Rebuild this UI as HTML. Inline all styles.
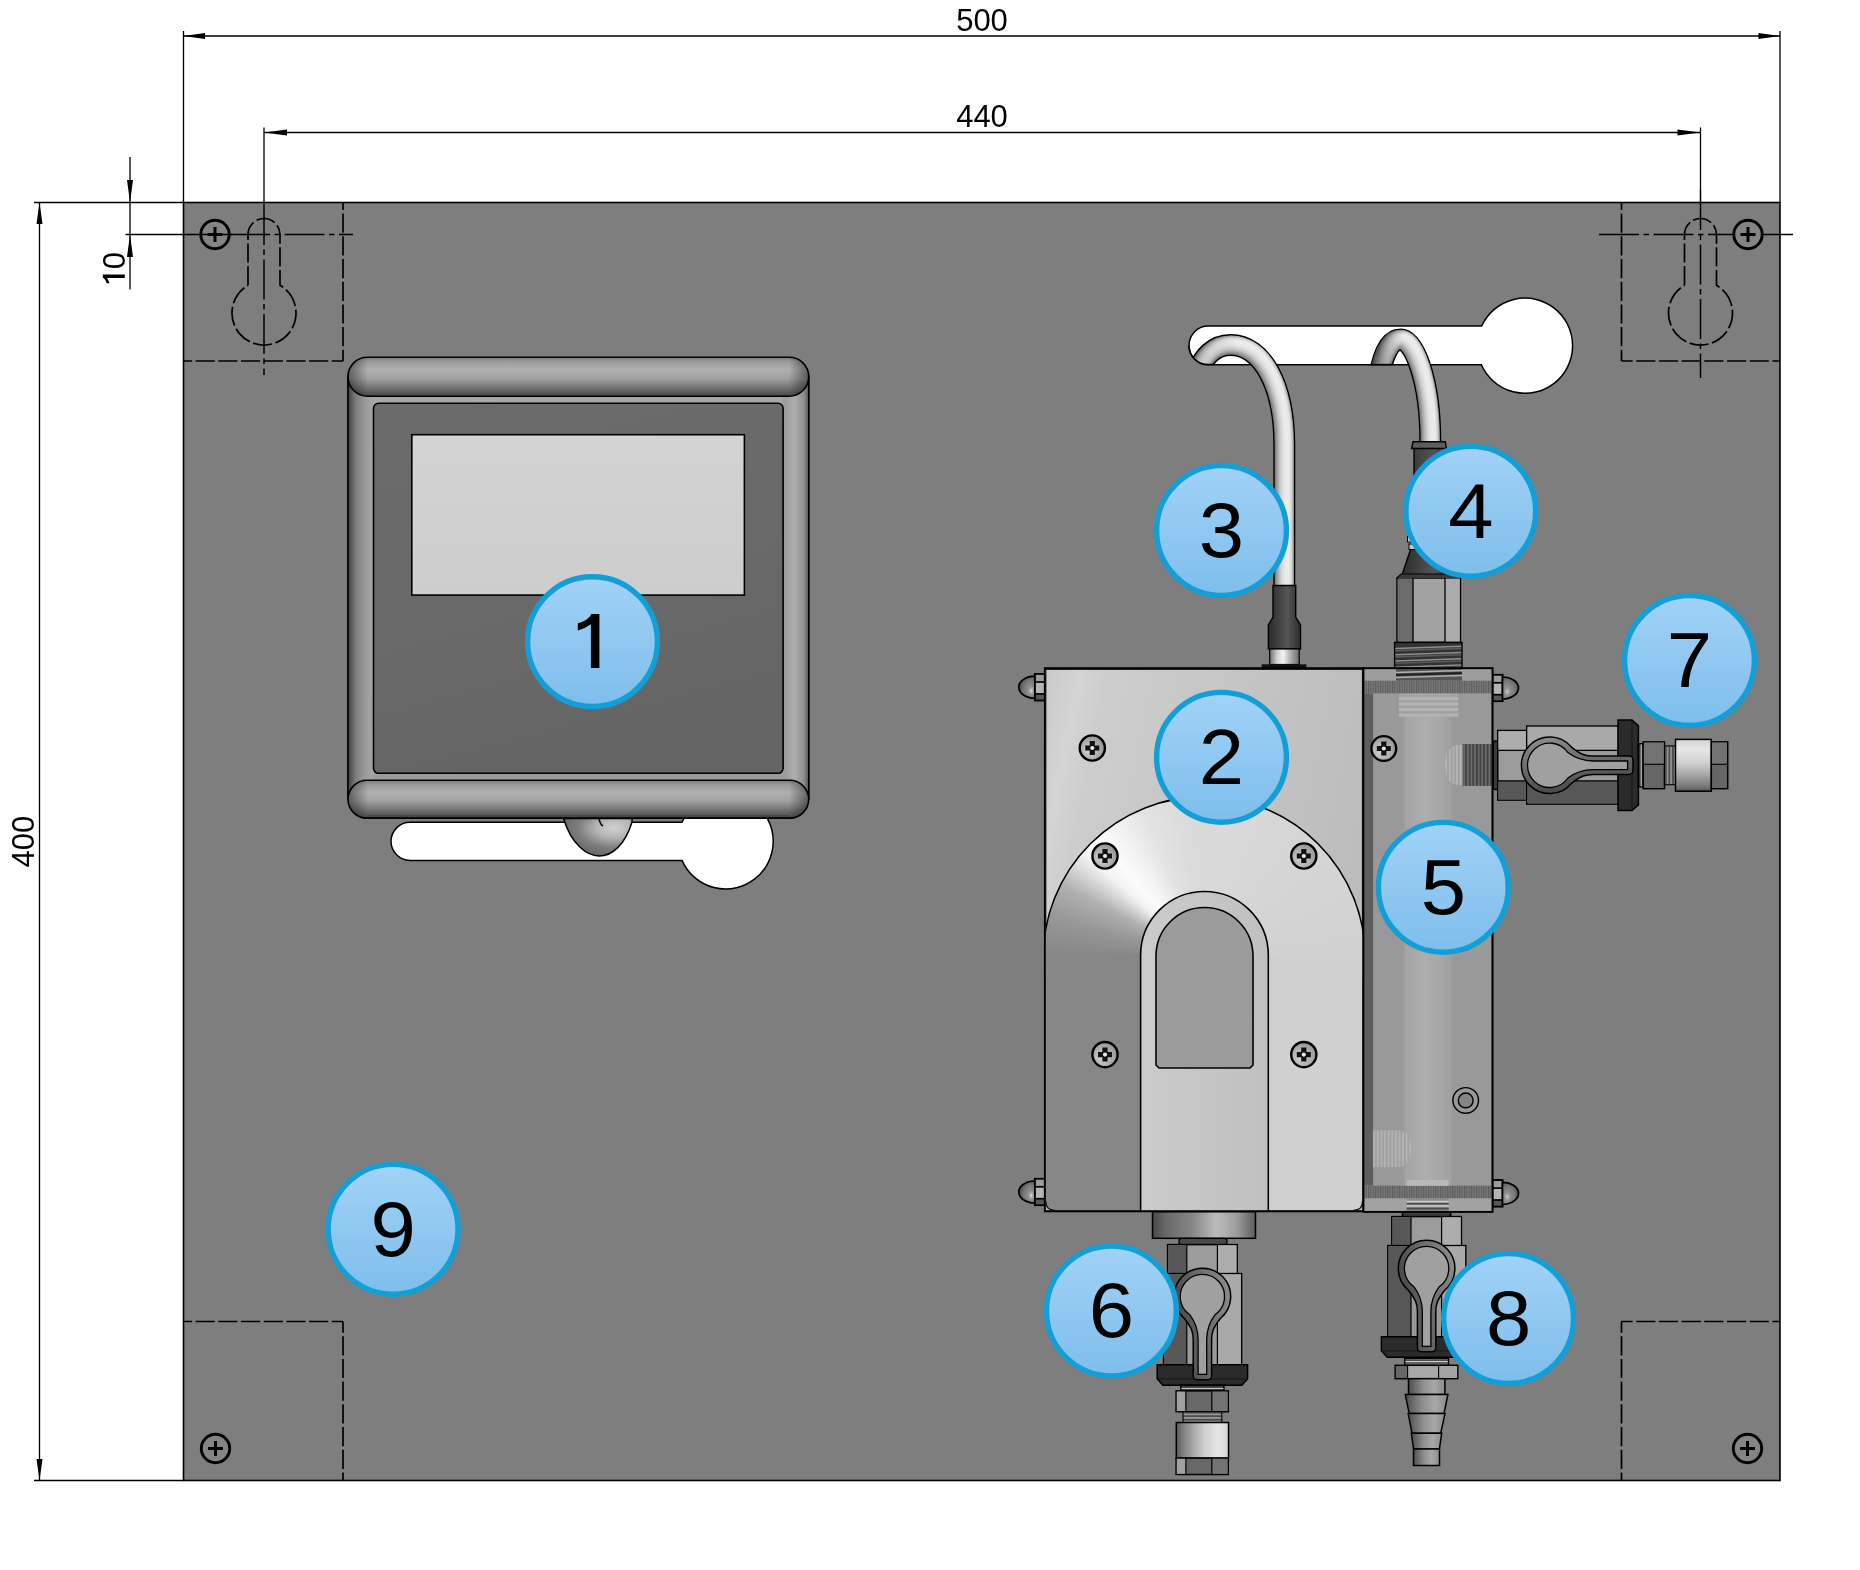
<!DOCTYPE html>
<html><head><meta charset="utf-8"><title>Panel</title>
<style>html,body{margin:0;padding:0;background:#fff}svg{display:block;will-change:transform}</style></head>
<body>
<svg width="1860" height="1570" viewBox="0 0 1860 1570">
<defs>
<linearGradient id="gBall" x1="0" y1="0" x2="0" y2="1"><stop offset="0" stop-color="#a1d2f6"/><stop offset="1" stop-color="#7ebeec"/></linearGradient>
<linearGradient id="gBarV" x1="0" y1="0" x2="0" y2="1"><stop offset="0" stop-color="#7a7a7a"/><stop offset="0.12" stop-color="#9c9c9c"/><stop offset="0.32" stop-color="#b0b0b0"/><stop offset="0.55" stop-color="#a0a0a0"/><stop offset="0.8" stop-color="#707070"/><stop offset="1" stop-color="#484848"/></linearGradient>
<linearGradient id="gSideL" x1="0" y1="0" x2="1" y2="0"><stop offset="0" stop-color="#3e3e3e"/><stop offset="0.3" stop-color="#7c7c7c"/><stop offset="0.7" stop-color="#9c9c9c"/><stop offset="1" stop-color="#a6a6a6"/></linearGradient>
<linearGradient id="gSideR" x1="0" y1="0" x2="1" y2="0"><stop offset="0" stop-color="#9a9a9a"/><stop offset="0.45" stop-color="#adadad"/><stop offset="0.8" stop-color="#909090"/><stop offset="1" stop-color="#5a5a5a"/></linearGradient>
<radialGradient id="gScrew" cx="0.4" cy="0.6" r="0.7"><stop offset="0" stop-color="#d8d8d8"/><stop offset="0.6" stop-color="#a8a8a8"/><stop offset="1" stop-color="#8a8a8a"/></radialGradient>
<linearGradient id="gCtrlGap" x1="0" y1="0" x2="0" y2="1"><stop offset="0" stop-color="#a8a8a8"/><stop offset="1" stop-color="#9a9a9a"/></linearGradient><linearGradient id="gInner" x1="0" y1="0" x2="0.3" y2="1"><stop offset="0" stop-color="#6b6b6b"/><stop offset="0.6" stop-color="#696969"/><stop offset="1" stop-color="#656565"/></linearGradient><linearGradient id="gScreen" x1="0" y1="0" x2="0" y2="1"><stop offset="0" stop-color="#d3d3d3"/><stop offset="1" stop-color="#cdcdcd"/></linearGradient><linearGradient id="gEndL" x1="0" y1="0" x2="1" y2="0"><stop offset="0" stop-color="#000" stop-opacity="0.45"/><stop offset="1" stop-color="#000" stop-opacity="0"/></linearGradient><linearGradient id="gEndR" x1="1" y1="0" x2="0" y2="0"><stop offset="0" stop-color="#000" stop-opacity="0.45"/><stop offset="1" stop-color="#000" stop-opacity="0"/></linearGradient><radialGradient id="gLoop" cx="0.74" cy="0.25" r="0.75"><stop offset="0" stop-color="#d2d2d2"/><stop offset="0.35" stop-color="#b4b4b4"/><stop offset="0.7" stop-color="#7e7e7e"/><stop offset="1" stop-color="#6a6a6a"/></radialGradient><linearGradient id="gShc3" gradientUnits="userSpaceOnUse" x1="1200" y1="0" x2="1238" y2="0"><stop offset="0" stop-color="#000" stop-opacity="0.16"/><stop offset="1" stop-color="#000" stop-opacity="0"/></linearGradient><linearGradient id="gShc4" gradientUnits="userSpaceOnUse" x1="1378" y1="0" x2="1403" y2="0"><stop offset="0" stop-color="#000" stop-opacity="0.42"/><stop offset="1" stop-color="#000" stop-opacity="0"/></linearGradient><linearGradient id="gDarkH" x1="0" y1="0" x2="1" y2="0"><stop offset="0" stop-color="#2a2a2a"/><stop offset="0.45" stop-color="#4a4a4a"/><stop offset="0.6" stop-color="#555"/><stop offset="1" stop-color="#2c2c2c"/></linearGradient><linearGradient id="gMetalH" x1="0" y1="0" x2="1" y2="0"><stop offset="0" stop-color="#6e6e6e"/><stop offset="0.25" stop-color="#d0d0d0"/><stop offset="0.45" stop-color="#f4f4f4"/><stop offset="0.7" stop-color="#b0b0b0"/><stop offset="1" stop-color="#6a6a6a"/></linearGradient><linearGradient id="gPumpTop" x1="0" y1="0" x2="1" y2="0.35"><stop offset="0" stop-color="#c9c9c9"/><stop offset="0.1" stop-color="#d4d4d4"/><stop offset="0.18" stop-color="#cdcdcd"/><stop offset="0.5" stop-color="#c6c6c6"/><stop offset="1" stop-color="#bcbcbc"/></linearGradient><linearGradient id="gUslot" x1="0" y1="0" x2="1" y2="0"><stop offset="0" stop-color="#cbcbcb"/><stop offset="1" stop-color="#c0c0c0"/></linearGradient><linearGradient id="gCylH" x1="0" y1="0" x2="1" y2="0"><stop offset="0" stop-color="#484848"/><stop offset="0.12" stop-color="#686868"/><stop offset="0.38" stop-color="#858585"/><stop offset="0.62" stop-color="#bcbcbc"/><stop offset="0.82" stop-color="#9c9c9c"/><stop offset="1" stop-color="#5c5c5c"/></linearGradient><radialGradient id="gDome" cx="0.78" cy="0.66" r="0.8"><stop offset="0" stop-color="#f0f0f0"/><stop offset="0.08" stop-color="#b8b8b8"/><stop offset="0.25" stop-color="#8e8e8e"/><stop offset="0.6" stop-color="#777"/><stop offset="1" stop-color="#484848"/></radialGradient><radialGradient id="gDomeR" cx="0.3" cy="0.66" r="0.8"><stop offset="0" stop-color="#d8d8d8"/><stop offset="0.08" stop-color="#b0b0b0"/><stop offset="0.25" stop-color="#8e8e8e"/><stop offset="0.6" stop-color="#777"/><stop offset="1" stop-color="#484848"/></radialGradient><linearGradient id="gTube" x1="0" y1="0" x2="1" y2="0"><stop offset="0" stop-color="#a4a4a4"/><stop offset="0.45" stop-color="#aeaeae"/><stop offset="0.8" stop-color="#a6a6a6"/><stop offset="1" stop-color="#9e9e9e"/></linearGradient><pattern id="pHatchV" width="2.4" height="4" patternUnits="userSpaceOnUse"><rect width="2.4" height="4" fill="#7a7a7a"/><rect width="1.1" height="4" fill="#5c5c5c"/></pattern><pattern id="pThrV" width="3.6" height="4" patternUnits="userSpaceOnUse"><rect width="3.6" height="4" fill="#6a6a6a"/><rect width="1.5" height="4" fill="#3c3c3c"/></pattern><pattern id="pThrVg" width="3.6" height="4" patternUnits="userSpaceOnUse"><rect width="3.6" height="4" fill="#b8b8b8"/><rect width="1.5" height="4" fill="#9c9c9c"/></pattern><pattern id="pThrHg" width="4" height="5.6" patternUnits="userSpaceOnUse"><rect width="4" height="5.6" fill="#b4b4b4"/><rect width="4" height="2.4" fill="#a0a0a0"/></pattern><linearGradient id="gCylV" x1="0" y1="0" x2="0" y2="1"><stop offset="0" stop-color="#d4d4d4"/><stop offset="0.2" stop-color="#e6e6e6"/><stop offset="0.45" stop-color="#d0d0d0"/><stop offset="0.7" stop-color="#a4a4a4"/><stop offset="0.9" stop-color="#7a7a7a"/><stop offset="1" stop-color="#555"/></linearGradient><linearGradient id="gBarbV" x1="0" y1="0" x2="0" y2="1"><stop offset="0" stop-color="#8c8c8c"/><stop offset="0.3" stop-color="#a8a8a8"/><stop offset="0.6" stop-color="#8e8e8e"/><stop offset="1" stop-color="#4e4e4e"/></linearGradient><linearGradient id="gRing" x1="0.2" y1="0" x2="0.5" y2="1"><stop offset="0" stop-color="#8c8c8c"/><stop offset="0.5" stop-color="#6a6a6a"/><stop offset="1" stop-color="#444"/></linearGradient><pattern id="pThrVd" width="3.6" height="4" patternUnits="userSpaceOnUse"><rect width="3.6" height="4" fill="#4c4c4c"/><rect x="1.2" width="1.1" height="4" fill="#c2c2c2"/></pattern></defs>
<rect width="1860" height="1570" fill="#fff"/>
<rect x="183.5" y="202.5" width="1596.5" height="1278.0" fill="#7e7e7e" stroke="#000" stroke-width="1.6"/>
<path d="M1208.35,326.1 L1481.6,326.1 A47.6,47.6 0 1 1 1481.4,364.8 L1208.35,364.8 A19.349999999999994,19.349999999999994 0 0 1 1208.35,326.1 Z" fill="#fff" stroke="#000" stroke-width="1.5"/>
<path d="M410.05,822.3 L682.0,822.3 A47.6,47.6 0 1 1 682.0,860.4 L410.05,860.4 A19.05000000000001,19.05000000000001 0 0 1 410.05,822.3 Z" fill="#fff" stroke="#000" stroke-width="1.5"/>
<path d="M343,361 H183.5 M343,361 V202.5" stroke="#000" stroke-width="1.7" fill="none" stroke-dasharray="19.2 3.5" stroke-dashoffset="8"/>
<path d="M1621.5,361 H1780 M1621.5,361 V202.5" stroke="#000" stroke-width="1.7" fill="none" stroke-dasharray="19.2 3.5" stroke-dashoffset="8"/>
<path d="M343,1321.5 H183.5 M343,1321.5 V1480.5" stroke="#000" stroke-width="1.7" fill="none" stroke-dasharray="19.2 3.5" stroke-dashoffset="8"/>
<path d="M1621.5,1321.5 H1780 M1621.5,1321.5 V1480.5" stroke="#000" stroke-width="1.7" fill="none" stroke-dasharray="19.2 3.5" stroke-dashoffset="8"/>
<path d="M248,285.3 V234.5 A16,16 0 0 1 280,234.5 V285.3 A32,32 0 1 1 248,285.3" stroke="#000" stroke-width="1.7" fill="none" stroke-dasharray="19.2 3.5"/>
<path d="M1684.5,285.3 V234.5 A16,16 0 0 1 1716.5,234.5 V285.3 A32,32 0 1 1 1684.5,285.3" stroke="#000" stroke-width="1.7" fill="none" stroke-dasharray="19.2 3.5"/>
<path d="M264,205 V375" stroke="#000" stroke-width="1.5" fill="none" stroke-dasharray="40 4.5 5.5 4.5"/>
<path d="M1700.5,190 V378" stroke="#000" stroke-width="1.5" fill="none" stroke-dasharray="40 4.5 5.5 4.5"/>
<path d="M230,234.5 H353" stroke="#000" stroke-width="1.5" fill="none" stroke-dasharray="40 4.5 5.5 4.5"/>
<path d="M1599,234.5 H1793" stroke="#000" stroke-width="1.5" fill="none" stroke-dasharray="40 4.5 5.5 4.5"/>
<g><circle cx="215" cy="234.5" r="14.2" fill="#848484" stroke="#000" stroke-width="2.9"/><path d="M207.5,234.5 H222.5 M215,227.0 V242.0" stroke="#000" stroke-width="3"/></g>
<g><circle cx="1748" cy="234.5" r="14.2" fill="#848484" stroke="#000" stroke-width="2.9"/><path d="M1740.5,234.5 H1755.5 M1748,227.0 V242.0" stroke="#000" stroke-width="3"/></g>
<g><circle cx="215.5" cy="1448.5" r="14.2" fill="#848484" stroke="#000" stroke-width="2.9"/><path d="M208.0,1448.5 H223.0 M215.5,1441.0 V1456.0" stroke="#000" stroke-width="3"/></g>
<g><circle cx="1747.5" cy="1448.5" r="14.2" fill="#848484" stroke="#000" stroke-width="2.9"/><path d="M1740.0,1448.5 H1755.0 M1747.5,1441.0 V1456.0" stroke="#000" stroke-width="3"/></g>
<rect x="348" y="376.2" width="460.70000000000005" height="422.90000000000003" fill="url(#gCtrlGap)" stroke="#000" stroke-width="1.5"/>
<rect x="348" y="376.2" width="25.5" height="422.90000000000003" fill="url(#gSideL)"/>
<rect x="783.2" y="376.2" width="25.5" height="422.90000000000003" fill="url(#gSideR)"/>
<rect x="348" y="376.2" width="460.70000000000005" height="422.90000000000003" fill="none" stroke="#000" stroke-width="1.5"/>
<rect x="373.5" y="403.3" width="409.6" height="370" rx="5" fill="url(#gInner)" stroke="#000" stroke-width="1.6"/>
<rect x="411.8" y="434.7" width="332.6" height="160.4" fill="url(#gScreen)" stroke="#000" stroke-width="1.6"/>
<clipPath id="cpBar357"><rect x="348" y="357.2" width="460.70000000000005" height="39.0" rx="19.5"/></clipPath>
<g clip-path="url(#cpBar357)"><rect x="348" y="357.2" width="460.70000000000005" height="39.0" fill="url(#gBarV)"/><rect x="348" y="357.2" width="20" height="39.0" fill="url(#gEndL)"/><rect x="788.7" y="357.2" width="20" height="39.0" fill="url(#gEndR)"/></g>
<rect x="348" y="357.2" width="460.70000000000005" height="39.0" rx="19.5" fill="none" stroke="#000" stroke-width="1.6"/>
<clipPath id="cpBar780"><rect x="348" y="780.3" width="460.70000000000005" height="37.80000000000007" rx="18.900000000000034"/></clipPath>
<g clip-path="url(#cpBar780)"><rect x="348" y="780.3" width="460.70000000000005" height="37.80000000000007" fill="url(#gBarV)"/><rect x="348" y="780.3" width="20" height="37.80000000000007" fill="url(#gEndL)"/><rect x="788.7" y="780.3" width="20" height="37.80000000000007" fill="url(#gEndR)"/></g>
<rect x="348" y="780.3" width="460.70000000000005" height="37.80000000000007" rx="18.900000000000034" fill="none" stroke="#000" stroke-width="1.6"/>
<path d="M563.5,818.5 C572,846 588,856 599,856 C612,856 625,845 632,822 V818.5 Z" fill="url(#gLoop)" stroke="#000" stroke-width="1.5"/>
<path d="M599,819 C600,823 602,825.5 603,826" stroke="#000" stroke-width="1.5" fill="none"/>
<rect x="367" y="815.1" width="422.70000000000005" height="3" fill="#454545"/>
<path d="M364,818.1 H792.7" stroke="#000" stroke-width="1.6"/>
<path d="M520,819.4 H683 L685,821.7" stroke="#000" stroke-width="0" fill="none"/>
<clipPath id="cpc3"><path d="M1208.35,326.1 L1481.6,326.1 A47.6,47.6 0 1 1 1481.4,364.8 L1208.35,364.8 A19.349999999999994,19.349999999999994 0 0 1 1208.35,326.1 Z"/><rect x="1232" y="300" width="200" height="400"/></clipPath>
<g clip-path="url(#cpc3)" fill="none" stroke-linecap="butt"><path d="M1197,376 C1202,356 1215,345 1230.5,345 C1262,345 1284.3,385 1284.3,445 V588" stroke="#000" stroke-width="22"/><path d="M1197,376 C1202,356 1215,345 1230.5,345 C1262,345 1284.3,385 1284.3,445 V588" stroke="#808080" stroke-width="19.2"/><path d="M1197,376 C1202,356 1215,345 1230.5,345 C1262,345 1284.3,385 1284.3,445 V588" stroke="#969696" stroke-width="17.6" transform="translate(0.5,-0.5)"/><path d="M1197,376 C1202,356 1215,345 1230.5,345 C1262,345 1284.3,385 1284.3,445 V588" stroke="#a8a8a8" stroke-width="16" transform="translate(0.9,-0.9)"/><path d="M1197,376 C1202,356 1215,345 1230.5,345 C1262,345 1284.3,385 1284.3,445 V588" stroke="#b9b9b9" stroke-width="14.4" transform="translate(1.3,-1.3)"/><path d="M1197,376 C1202,356 1215,345 1230.5,345 C1262,345 1284.3,385 1284.3,445 V588" stroke="#c8c8c8" stroke-width="12.8" transform="translate(1.6,-1.6)"/><path d="M1197,376 C1202,356 1215,345 1230.5,345 C1262,345 1284.3,385 1284.3,445 V588" stroke="#d4d4d4" stroke-width="11" transform="translate(1.9,-1.9)"/><path d="M1197,376 C1202,356 1215,345 1230.5,345 C1262,345 1284.3,385 1284.3,445 V588" stroke="#dddddd" stroke-width="9" transform="translate(2.2,-2.2)"/><path d="M1197,376 C1202,356 1215,345 1230.5,345 C1262,345 1284.3,385 1284.3,445 V588" stroke="#e5e5e5" stroke-width="7" transform="translate(2.5,-2.5)"/><path d="M1197,376 C1202,356 1215,345 1230.5,345 C1262,345 1284.3,385 1284.3,445 V588" stroke="#ebebeb" stroke-width="4.5" transform="translate(2.8,-2.8)"/><path d="M1197,376 C1202,356 1215,345 1230.5,345 H1240" stroke="url(#gShc3)" stroke-width="19.2"/></g>
<clipPath id="cpc4"><path d="M1208.35,326.1 L1481.6,326.1 A47.6,47.6 0 1 1 1481.4,364.8 L1208.35,364.8 A19.349999999999994,19.349999999999994 0 0 1 1208.35,326.1 Z"/><rect x="1398" y="300" width="200" height="400"/></clipPath>
<g clip-path="url(#cpc4)" fill="none" stroke-linecap="butt"><path d="M1379,378 C1383,352 1391,339.4 1400.5,339.4 C1414,339.4 1430.3,380 1430.3,441 V445" stroke="#000" stroke-width="22"/><path d="M1379,378 C1383,352 1391,339.4 1400.5,339.4 C1414,339.4 1430.3,380 1430.3,441 V445" stroke="#808080" stroke-width="19.2"/><path d="M1379,378 C1383,352 1391,339.4 1400.5,339.4 C1414,339.4 1430.3,380 1430.3,441 V445" stroke="#969696" stroke-width="17.6" transform="translate(0.5,-0.5)"/><path d="M1379,378 C1383,352 1391,339.4 1400.5,339.4 C1414,339.4 1430.3,380 1430.3,441 V445" stroke="#a8a8a8" stroke-width="16" transform="translate(0.9,-0.9)"/><path d="M1379,378 C1383,352 1391,339.4 1400.5,339.4 C1414,339.4 1430.3,380 1430.3,441 V445" stroke="#b9b9b9" stroke-width="14.4" transform="translate(1.3,-1.3)"/><path d="M1379,378 C1383,352 1391,339.4 1400.5,339.4 C1414,339.4 1430.3,380 1430.3,441 V445" stroke="#c8c8c8" stroke-width="12.8" transform="translate(1.6,-1.6)"/><path d="M1379,378 C1383,352 1391,339.4 1400.5,339.4 C1414,339.4 1430.3,380 1430.3,441 V445" stroke="#d4d4d4" stroke-width="11" transform="translate(1.9,-1.9)"/><path d="M1379,378 C1383,352 1391,339.4 1400.5,339.4 C1414,339.4 1430.3,380 1430.3,441 V445" stroke="#dddddd" stroke-width="9" transform="translate(2.2,-2.2)"/><path d="M1379,378 C1383,352 1391,339.4 1400.5,339.4 C1414,339.4 1430.3,380 1430.3,441 V445" stroke="#e5e5e5" stroke-width="7" transform="translate(2.5,-2.5)"/><path d="M1379,378 C1383,352 1391,339.4 1400.5,339.4 C1414,339.4 1430.3,380 1430.3,441 V445" stroke="#ebebeb" stroke-width="4.5" transform="translate(2.8,-2.8)"/><path d="M1379,378 C1383,352 1391,339.4 1400.5,339.4 H1404" stroke="url(#gShc4)" stroke-width="19.2"/></g>
<path d="M1189,345.4 A19.2,19.2 0 0 0 1208.2,364.6 H1213" stroke="#000" stroke-width="1.5" fill="none"/>
<path d="M1371,364.6 H1393" stroke="#000" stroke-width="1.5" fill="none"/>
<path d="M1273,585.5 H1295.7 V617 L1300.5,625 V649 H1268.4 V625 L1273,617 Z" fill="url(#gDarkH)" stroke="#000" stroke-width="1.4"/>
<rect x="1269.7" y="649" width="29.5" height="15.5" fill="url(#gMetalH)" stroke="#000" stroke-width="1.2"/>
<rect x="1261.7" y="664.3" width="44.7" height="4" fill="#111"/>
<path d="M1414,448 H1444 V540 L1449,560 L1455,578 H1401 L1407,560 L1414,540 Z" fill="url(#gDarkH)" stroke="#000" stroke-width="1.4"/>
<path d="M1413,441.7 H1445.2 L1446.6,448.5 H1411.6 Z" fill="#5c5c5c" stroke="#000" stroke-width="1.4"/>
<rect x="1407.5" y="536.5" width="8" height="5.5" fill="#c8c8c8" stroke="#000" stroke-width="1"/><rect x="1409" y="544" width="7" height="5.5" fill="#c8c8c8" stroke="#000" stroke-width="1"/>
<rect x="1397" y="578" width="63.4" height="64.4" fill="#a2a2a2" stroke="#000" stroke-width="1.5"/>
<rect x="1397.7" y="578.7" width="15.3" height="63" fill="#6c6c6c"/><rect x="1445" y="578.7" width="14.7" height="63" fill="#ababab"/>
<path d="M1413,578 V642.4 M1445,578 V642.4" stroke="#000" stroke-width="1.3"/>
<path d="M1397,578 L1401,574 H1455 L1460.4,578" fill="#3a3a3a" stroke="#000" stroke-width="1.2"/>
<rect x="1394.6" y="642.4" width="67.4" height="26" fill="#333" stroke="#000" stroke-width="1.4"/>
<path d="M1395.3,648.4 L1461.3,646.2 M1395.3,654.7 L1461.3,652.5 M1395.3,661.0 L1461.3,658.8 M1395.3,667.3 L1461.3,665.1 " stroke="#8e8e8e" stroke-width="1.5" fill="none"/>
<path d="M1395.3,650.6 L1461.3,648.4 M1395.3,656.9 L1461.3,654.7 M1395.3,663.2 L1461.3,661.0 M1395.3,669.5 L1461.3,667.3 " stroke="#5a5a5a" stroke-width="1.6" fill="none"/>
<g stroke="#000" stroke-width="1.7"><rect x="1034.8" y="674.0" width="10.0" height="26.40000000000009" fill="#b4b4b4"/><rect x="1034.8" y="674.0" width="10.0" height="8" fill="#9c9c9c"/><rect x="1034.8" y="693.9000000000001" width="10.0" height="6.5" fill="#585858"/><path d="M1034.8,676.2 A16,11 0 0 0 1034.8,698.2 Z" fill="url(#gDome)"/></g>
<g stroke="#000" stroke-width="1.7"><rect x="1034.8" y="1178.8" width="10.0" height="26.40000000000009" fill="#b4b4b4"/><rect x="1034.8" y="1178.8" width="10.0" height="8" fill="#9c9c9c"/><rect x="1034.8" y="1198.7" width="10.0" height="6.5" fill="#585858"/><path d="M1034.8,1181 A16,11 0 0 0 1034.8,1203 Z" fill="url(#gDome)"/></g>
<rect x="1044.8" y="668.3" width="318.70000000000005" height="543.0" fill="#b8b8b8" stroke="#000" stroke-width="1.7"/>
<path d="M1045.8,669.3 H1362.5 V1201.3 Q1362.5,1210.3 1353.5,1210.3 H1054.8 Q1045.8,1210.3 1045.8,1201.3 Z" fill="url(#gPumpTop)" stroke="#222" stroke-width="1.2"/>
<clipPath id="cpPump"><path d="M1045.8,669.3 H1362.5 V1201.3 Q1362.5,1210.3 1353.5,1210.3 H1054.8 Q1045.8,1210.3 1045.8,1201.3 Z"/></clipPath>
<g clip-path="url(#cpPump)"><circle cx="1204.2" cy="957.5" r="160" fill="#d8d8d8"/><path d="M1204.2,957.5 L1044.7,957.5 A159.5,159.5 0 0 1 1056.3,897.8 Z" fill="#8e8e8e"/><path d="M1204.2,957.5 L1056.3,897.8 A159.5,159.5 0 0 1 1070.4,870.6 Z" fill="#b4b4b4"/><path d="M1204.2,957.5 L1070.4,870.6 A159.5,159.5 0 0 1 1129.3,816.7 Z" fill="#f4f4f4"/><path d="M1204.2,957.5 L1129.3,816.7 A159.5,159.5 0 0 1 1162.9,803.4 Z" fill="#e4e4e4"/><foreignObject x="1043.2" y="796.5" width="322" height="161"><div style="width:322px;height:322px;border-radius:50%;background:conic-gradient(from 0deg at 50% 50%, #dadada 0deg, #d6d6d6 40deg, #d1d1d1 90deg, #d0d0d0 180deg, #878787 180.1deg, #878787 272deg, #999999 286deg, #b0b0b0 297deg, #d2d2d2 304deg, #f3f3f3 311deg, #fcfcfc 318deg, #f1f1f1 328deg, #e3e3e3 338deg, #dcdcdc 350deg, #dadada 360deg)"></div></foreignObject><rect x="1044.8" y="957.2" width="159.4000000000001" height="253.79999999999995" fill="#878787"/><rect x="1204.2" y="957.2" width="159.29999999999995" height="253.79999999999995" fill="#d0d0d0"/><path d="M1043.2,957.5 A161,161 0 0 1 1365.2,957.5" fill="none" stroke="#000" stroke-width="1.6"/></g>
<path d="M1362.5,1201.3 Q1362.5,1210.3 1353.5,1210.3 M1054.8,1210.3 Q1045.8,1210.3 1045.8,1201.3" fill="none" stroke="#111" stroke-width="1.3"/>
<path d="M1140.6,1211.3 V955.3 A63.85,63.85 0 0 1 1268.3,955.3 V1211.3 Z" fill="url(#gUslot)" stroke="#000" stroke-width="1.6"/>
<path d="M1156,1065 V956 A48.5,48.5 0 0 1 1253,956 V1065 L1250,1068 H1159 Z" fill="#9b9b9b" stroke="#000" stroke-width="1.6"/>
<rect x="1044.8" y="668.3" width="318.70000000000005" height="543.0" fill="none" stroke="#000" stroke-width="1.7"/>
<g><circle cx="1092.3" cy="748" r="12.6" fill="url(#gScrew)" stroke="#000" stroke-width="2.4"/><path d="M1085.3,748 H1099.3 M1092.3,741 V755" stroke="#111" stroke-width="5.2"/><circle cx="1092.3" cy="748" r="2.1" fill="#e8e8e8"/></g>
<g><circle cx="1105" cy="856" r="12.6" fill="url(#gScrew)" stroke="#000" stroke-width="2.4"/><path d="M1098,856 H1112 M1105,849 V863" stroke="#111" stroke-width="5.2"/><circle cx="1105" cy="856" r="2.1" fill="#e8e8e8"/></g>
<g><circle cx="1303.8" cy="856" r="12.6" fill="url(#gScrew)" stroke="#000" stroke-width="2.4"/><path d="M1296.8,856 H1310.8 M1303.8,849 V863" stroke="#111" stroke-width="5.2"/><circle cx="1303.8" cy="856" r="2.1" fill="#e8e8e8"/></g>
<g><circle cx="1105" cy="1054.6" r="12.6" fill="url(#gScrew)" stroke="#000" stroke-width="2.4"/><path d="M1098,1054.6 H1112 M1105,1047.6 V1061.6" stroke="#111" stroke-width="5.2"/><circle cx="1105" cy="1054.6" r="2.1" fill="#e8e8e8"/></g>
<g><circle cx="1303.8" cy="1054.6" r="12.6" fill="url(#gScrew)" stroke="#000" stroke-width="2.4"/><path d="M1296.8,1054.6 H1310.8 M1303.8,1047.6 V1061.6" stroke="#111" stroke-width="5.2"/><circle cx="1303.8" cy="1054.6" r="2.1" fill="#e8e8e8"/></g>
<rect x="1152.5" y="1211.8" width="103" height="26.5" fill="url(#gCylH)" stroke="#000" stroke-width="1.5"/>
<g stroke="#000" stroke-width="1.7"><rect x="1492.5" y="674.8" width="10.0" height="26.40000000000009" fill="#b4b4b4"/><rect x="1492.5" y="674.8" width="10.0" height="8" fill="#9c9c9c"/><rect x="1492.5" y="694.7" width="10.0" height="6.5" fill="#585858"/><path d="M1502.5,677 A16,11 0 0 1 1502.5,699 Z" fill="url(#gDomeR)"/></g>
<g stroke="#000" stroke-width="1.7"><rect x="1492.5" y="1180.1" width="10.0" height="26.40000000000009" fill="#b4b4b4"/><rect x="1492.5" y="1180.1" width="10.0" height="8" fill="#9c9c9c"/><rect x="1492.5" y="1200.0" width="10.0" height="6.5" fill="#585858"/><path d="M1502.5,1182.3 A16,11 0 0 1 1502.5,1204.3 Z" fill="url(#gDomeR)"/></g>
<rect x="1363.5" y="668.3" width="129.0" height="543.5" fill="#999999" stroke="#000" stroke-width="1.7"/>
<rect x="1404.8" y="693.4" width="47.2" height="492.3" fill="url(#gTube)"/>
<rect x="1404" y="693.4" width="1.6" height="492.3" fill="#a0a0a0"/>
<rect x="1364.3" y="693.4" width="8.8" height="492.3" fill="#5e5e5e"/>
<rect x="1364.3" y="669.0999999999999" width="127.4" height="12" fill="#9d9d9d"/>
<rect x="1396" y="668.3" width="66" height="12.4" fill="#555"/>
<path d="M1396,672.5 L1462,670.5 M1396,677.5 L1462,675.5" stroke="#b0b0b0" stroke-width="1.3"/>
<path d="M1396,675 L1462,673" stroke="#222" stroke-width="2"/>
<rect x="1399" y="693.4" width="59.3" height="23.2" fill="url(#pThrHg)"/>
<rect x="1364.3" y="680.7" width="127.4" height="12.7" fill="url(#pHatchV)"/>
<rect x="1364.3" y="1185.7" width="127.4" height="12.8" fill="url(#pHatchV)"/>
<rect x="1364.3" y="1198.5" width="127.4" height="12.5" fill="#a2a2a2"/>
<rect x="1406.7" y="1180" width="42" height="5.7" fill="#b8b8b8"/>
<rect x="1406.7" y="1198.5" width="42" height="12.8" fill="#8a8a8a"/>
<path d="M1406.7,1201.5 H1448.7 M1406.7,1206 H1448.7" stroke="#d0d0d0" stroke-width="1.4"/><path d="M1406.7,1203.7 H1448.7 M1406.7,1208.6 H1448.7" stroke="#4a4a4a" stroke-width="1.6"/>
<path d="M1372.9,1130.3 H1398 Q1411,1131 1411,1148.8 Q1411,1166.6 1398,1167.3 H1372.9 Z" fill="url(#pThrVg)" opacity="0.85"/>
<path d="M1463,745 H1458 Q1445,746 1445,765 Q1445,784 1458,785 H1463 Z" fill="url(#pThrVg)" opacity="0.85"/>
<rect x="1462.7" y="744" width="29" height="42" fill="url(#pThrV)"/>
<circle cx="1465.7" cy="1100.4" r="12.8" fill="#999" stroke="#000" stroke-width="1.4"/><circle cx="1465.7" cy="1100.4" r="7.4" fill="#858585" stroke="#000" stroke-width="1.4"/>
<g><circle cx="1383.8" cy="748.5" r="12.4" fill="url(#gScrew)" stroke="#000" stroke-width="2.4"/><path d="M1376.8,748.5 H1390.8 M1383.8,741.5 V755.5" stroke="#111" stroke-width="5.2"/><circle cx="1383.8" cy="748.5" r="2.1" fill="#e8e8e8"/></g>
<rect x="1363.5" y="668.3" width="129.0" height="543.5" fill="none" stroke="#000" stroke-width="1.7"/>
<g transform="translate(1493,765.3)"><rect x="0.3" y="-24.2" width="4.6" height="48.4" rx="2" fill="#3a3a3a" stroke="#000" stroke-width="1.5"/><rect x="4.8" y="-34.8" width="29" height="69.6" fill="#9c9c9c" stroke="#000" stroke-width="1.5"/><rect x="5.5" y="-34.1" width="27.6" height="19" fill="#adadad"/><rect x="5.5" y="15.6" width="27.6" height="18.5" fill="#575757"/><path d="M4.8,-15 H33.8 M4.8,15.6 H33.8" stroke="#000" stroke-width="1.2"/><rect x="33.8" y="-39.2" width="91.4" height="78" fill="#9a9a9a" stroke="#000" stroke-width="1.5"/><rect x="34.5" y="-38.5" width="90" height="23.3" fill="#a9a9a9"/><rect x="34.5" y="15.6" width="90" height="22.5" fill="#575757"/><path d="M33.8,-15 H125.2 M33.8,15.6 H125.2" stroke="#000" stroke-width="1.2"/><path d="M125,-45.2 H139 L145.4,-39.5 V39.5 L139,45.2 H125 Z" fill="#2b2b2b" stroke="#000" stroke-width="1.5"/><path d="M139,-44.5 V44.5" stroke="#1a1a1a" stroke-width="1.2"/><path d="M78.4,-18.2 C88,-10.4 93,-9.2 100,-9.2 L136,-9.2 A4,4 0 0 1 140,-5.2 L140,5.2 A4,4 0 0 1 136,9.2 L100,9.2 C93,9.2 88,10.4 78.4,18.2 A28.3,28.3 0 1 1 78.4,-18.2 Z" fill="url(#gRing)" stroke="#000" stroke-width="1.5"/><path d="M74.9,-12.7 C84,-5.8 92,-4.3 100,-4.3 L134.6,-4.3 L134.6,4.3 L100,4.3 C92,4.3 84,5.8 74.9,12.7 A22.2,22.2 0 1 1 74.9,-12.7 Z" fill="#a0a0a0" stroke="#000" stroke-width="1.3"/><rect x="145.4" y="-21.5" width="5" height="43" fill="#3c3c3c" stroke="#000" stroke-width="1.5"/><path d="M148.2,-21 V21" stroke="#d0d0d0" stroke-width="1"/><rect x="150.2" y="-23.4" width="21.3" height="46.8" fill="#666" stroke="#000" stroke-width="1.5"/><rect x="150.89999999999998" y="-22.7" width="19.900000000000002" height="21.5" fill="#727272"/><path d="M150.2,-1 H171.5" stroke="#000" stroke-width="1.1"/><rect x="171.5" y="-19.4" width="11.0" height="38.8" fill="url(#pThrVd)" stroke="#000" stroke-width="1.1"/><rect x="182.5" y="-25.9" width="35.8" height="51.8" fill="url(#gCylV)" stroke="#000" stroke-width="1.5"/><rect x="218.3" y="-23.4" width="16.4" height="46.8" fill="#666" stroke="#000" stroke-width="1.5"/><rect x="219.0" y="-22.7" width="14.999999999999998" height="21.5" fill="#727272"/><path d="M218.3,-1 H234.70000000000002" stroke="#000" stroke-width="1.1"/></g>
<g transform="translate(1426.6,1211.8) rotate(90)"><rect x="0.3" y="-24.2" width="4.6" height="48.4" rx="2" fill="#3a3a3a" stroke="#000" stroke-width="1.5"/><rect x="4.8" y="-34.8" width="29" height="69.6" fill="#9c9c9c" stroke="#000" stroke-width="1.5"/><rect x="5.5" y="-34.1" width="27.6" height="19" fill="#adadad"/><rect x="5.5" y="15.6" width="27.6" height="18.5" fill="#575757"/><path d="M4.8,-15 H33.8 M4.8,15.6 H33.8" stroke="#000" stroke-width="1.2"/><rect x="33.8" y="-39.2" width="91.4" height="78" fill="#9a9a9a" stroke="#000" stroke-width="1.5"/><rect x="34.5" y="-38.5" width="90" height="23.3" fill="#a9a9a9"/><rect x="34.5" y="15.6" width="90" height="22.5" fill="#575757"/><path d="M33.8,-15 H125.2 M33.8,15.6 H125.2" stroke="#000" stroke-width="1.2"/><path d="M125,-45.2 H139 L145.4,-39.5 V39.5 L139,45.2 H125 Z" fill="#2b2b2b" stroke="#000" stroke-width="1.5"/><path d="M139,-44.5 V44.5" stroke="#1a1a1a" stroke-width="1.2"/><path d="M78.4,-18.2 C88,-10.4 93,-9.2 100,-9.2 L136,-9.2 A4,4 0 0 1 140,-5.2 L140,5.2 A4,4 0 0 1 136,9.2 L100,9.2 C93,9.2 88,10.4 78.4,18.2 A28.3,28.3 0 1 1 78.4,-18.2 Z" fill="url(#gRing)" stroke="#000" stroke-width="1.5"/><path d="M74.9,-12.7 C84,-5.8 92,-4.3 100,-4.3 L134.6,-4.3 L134.6,4.3 L100,4.3 C92,4.3 84,5.8 74.9,12.7 A22.2,22.2 0 1 1 74.9,-12.7 Z" fill="#a0a0a0" stroke="#000" stroke-width="1.3"/><rect x="146.4" y="-21.8" width="7.2" height="43.6" fill="#8a8a8a" stroke="#000" stroke-width="1.5"/><path d="M148.3,-21 V21 M151.2,-21 V21" stroke="#3a3a3a" stroke-width="1.1"/><path d="M149.7,-21 V21" stroke="#d0d0d0" stroke-width="1"/><rect x="153.5" y="-31.2" width="13.4" height="62.6" fill="#a8a8a8" stroke="#000" stroke-width="1.5"/><rect x="154.2" y="19" width="12" height="11.7" fill="#666"/><rect x="154.2" y="-30.5" width="12" height="18.5" fill="#a4a4a4"/><path d="M153.5,-12 H166.9 M153.5,19 H166.9" stroke="#000" stroke-width="1.1"/><rect x="166.9" y="-18.3" width="15.8" height="36.4" fill="url(#gBarbV)" stroke="#000" stroke-width="1.5"/><path d="M182.7,-21.3 L201.8,-17.4 V17.4 L182.7,21.3 Z" fill="url(#gBarbV)" stroke="#000" stroke-width="1.5"/><path d="M201.8,-18.4 L221.4,-14.1 V14.6 L201.8,18.4 Z" fill="url(#gBarbV)" stroke="#000" stroke-width="1.5"/><path d="M221.4,-15.1 L237.2,-12.8 V13 L221.4,15.3 Z" fill="url(#gBarbV)" stroke="#000" stroke-width="1.5"/><rect x="237.2" y="-12.9" width="16.5" height="26" fill="url(#gBarbV)" stroke="#000" stroke-width="1.5"/></g>
<rect x="1179" y="1238.3" width="48" height="6.3" rx="2.5" fill="#4a4a4a" stroke="#000" stroke-width="1.3"/>
<g transform="translate(1202.4,1239.8) rotate(90)"><rect x="4.8" y="-34.8" width="29" height="69.6" fill="#9c9c9c" stroke="#000" stroke-width="1.5"/><rect x="5.5" y="-34.1" width="27.6" height="19" fill="#adadad"/><rect x="5.5" y="15.6" width="27.6" height="18.5" fill="#575757"/><path d="M4.8,-15 H33.8 M4.8,15.6 H33.8" stroke="#000" stroke-width="1.2"/><rect x="33.8" y="-39.2" width="91.4" height="78" fill="#9a9a9a" stroke="#000" stroke-width="1.5"/><rect x="34.5" y="-38.5" width="90" height="23.3" fill="#a9a9a9"/><rect x="34.5" y="15.6" width="90" height="22.5" fill="#575757"/><path d="M33.8,-15 H125.2 M33.8,15.6 H125.2" stroke="#000" stroke-width="1.2"/><path d="M125,-45.2 H139 L145.4,-39.5 V39.5 L139,45.2 H125 Z" fill="#2b2b2b" stroke="#000" stroke-width="1.5"/><path d="M139,-44.5 V44.5" stroke="#1a1a1a" stroke-width="1.2"/><path d="M78.4,-18.2 C88,-10.4 93,-9.2 100,-9.2 L136,-9.2 A4,4 0 0 1 140,-5.2 L140,5.2 A4,4 0 0 1 136,9.2 L100,9.2 C93,9.2 88,10.4 78.4,18.2 A28.3,28.3 0 1 1 78.4,-18.2 Z" fill="url(#gRing)" stroke="#000" stroke-width="1.5"/><path d="M74.9,-12.7 C84,-5.8 92,-4.3 100,-4.3 L134.6,-4.3 L134.6,4.3 L100,4.3 C92,4.3 84,5.8 74.9,12.7 A22.2,22.2 0 1 1 74.9,-12.7 Z" fill="#a0a0a0" stroke="#000" stroke-width="1.3"/><rect x="145.4" y="-21.5" width="5.9" height="43" fill="#3c3c3c" stroke="#000" stroke-width="1.5"/><path d="M148.64999999999998,-21 V21" stroke="#d0d0d0" stroke-width="1"/><rect x="151.1" y="-25.9" width="20.85" height="52.2" fill="#686868" stroke="#000" stroke-width="1.5"/><rect x="151.79999999999998" y="16.5" width="19.450000000000003" height="9.1" fill="#a0a0a0"/><rect x="151.79999999999998" y="-25.2" width="19.450000000000003" height="15.8" fill="#737373"/><path d="M151.1,16.5 H171.95 M151.1,-9.4 H171.95" stroke="#000" stroke-width="1.2"/><rect x="171.95" y="-19.4" width="10.775" height="38.8" fill="url(#pThrVd)" stroke="#000" stroke-width="1.1"/><rect x="182.725" y="-26.1" width="35.574999999999996" height="52.2" fill="url(#gCylV)" stroke="#000" stroke-width="1.5"/><rect x="218.3" y="-25.9" width="16.4" height="52.2" fill="#686868" stroke="#000" stroke-width="1.5"/><rect x="219.0" y="16.5" width="14.999999999999998" height="9.1" fill="#a0a0a0"/><rect x="219.0" y="-25.2" width="14.999999999999998" height="15.8" fill="#737373"/><path d="M218.3,16.5 H234.70000000000002 M218.3,-9.4 H234.70000000000002" stroke="#000" stroke-width="1.2"/></g>
<path d="M183.5,31 V202.5 M1780,31 V202.5 M183.5,36 H1780" stroke="#000" stroke-width="1.3" fill="none" stroke="#333"/>
<path d="M264,127.5 V205 M1700.5,127.5 V190 M264,132.5 H1700.5" stroke="#000" stroke-width="1.3" fill="none"/>
<path d="M183.5,36 L205,33 V39 Z M1780,36 L1758.5,33 V39 Z M264,132.5 L287,129.5 V135.5 Z M1700.5,132.5 L1677.5,129.5 V135.5 Z" fill="#000"/>
<path d="M34,202.5 H183.5 M34,1480.5 H183.5 M39.5,202.5 V1480.5" stroke="#000" stroke-width="1.3" fill="none"/>
<path d="M39.5,202.5 L36.5,224 H42.5 Z M39.5,1480.5 L36.5,1459 H42.5 Z" fill="#000"/>
<path d="M130,157 V289.5 M125.5,234.5 H232" stroke="#000" stroke-width="1.3" fill="none"/>
<path d="M130,202.5 L127,180 H133 Z M130,234.5 L127,257 H133 Z" fill="#000"/>
<g transform="translate(982,30.6)"><text x="-25.86" y="0" font-size="31" font-family="Liberation Sans, sans-serif" fill="#000">5</text><text x="-8.62" y="0" font-size="31" font-family="Liberation Sans, sans-serif" fill="#000">0</text><text x="8.62" y="0" font-size="31" font-family="Liberation Sans, sans-serif" fill="#000">0</text></g>
<g transform="translate(982,127)"><text x="-25.86" y="0" font-size="31" font-family="Liberation Sans, sans-serif" fill="#000">4</text><text x="-8.62" y="0" font-size="31" font-family="Liberation Sans, sans-serif" fill="#000">4</text><text x="8.62" y="0" font-size="31" font-family="Liberation Sans, sans-serif" fill="#000">0</text></g>
<g transform="translate(34.4,841.6) rotate(-90)"><text x="-25.86" y="0" font-size="31" font-family="Liberation Sans, sans-serif" fill="#000">4</text><text x="-8.62" y="0" font-size="31" font-family="Liberation Sans, sans-serif" fill="#000">0</text><text x="8.62" y="0" font-size="31" font-family="Liberation Sans, sans-serif" fill="#000">0</text></g>
<g transform="translate(124.8,269.3) rotate(-90)"><path d="M6.9,-53.8 H-1.1 Q-4.2,-47.2 -14.7,-44.6 V-37.4 Q-7,-39.6 -1.6,-43.7 V0 H6.9 Z" transform="translate(-8.02,0) scale(0.40789,0.40789)" fill="#000"/><text x="0.00" y="0" font-size="31" font-family="Liberation Sans, sans-serif" fill="#000">0</text></g>
<circle cx="592.5" cy="641.6" r="64.9" fill="url(#gBall)" stroke="#129fd7" stroke-width="5.4"/>
<g transform="translate(592.5,667.9) scale(1.045,1)"><path d="M6.9,-53.8 H-1.1 Q-4.2,-47.2 -14.7,-44.6 V-37.4 Q-7,-39.6 -1.6,-43.7 V0 H6.9 Z" transform="translate(0.00,0) scale(0.95694,1.00000)" fill="#000"/></g>
<circle cx="1221.5" cy="757.3" r="64.9" fill="url(#gBall)" stroke="#129fd7" stroke-width="5.4"/>
<g transform="translate(1221.5,783.5999999999999) scale(1.045,1)"><text x="-21.69" y="0" font-size="78" font-family="Liberation Sans, sans-serif" fill="#000">2</text></g>
<circle cx="1221.5" cy="530.5" r="64.9" fill="url(#gBall)" stroke="#129fd7" stroke-width="5.4"/>
<g transform="translate(1221.5,556.8) scale(1.045,1)"><text x="-21.69" y="0" font-size="78" font-family="Liberation Sans, sans-serif" fill="#000">3</text></g>
<circle cx="1470.8" cy="511.3" r="64.9" fill="url(#gBall)" stroke="#129fd7" stroke-width="5.4"/>
<g transform="translate(1470.8,537.6) scale(1.045,1)"><text x="-21.69" y="0" font-size="78" font-family="Liberation Sans, sans-serif" fill="#000">4</text></g>
<circle cx="1443.3" cy="887.3" r="64.9" fill="url(#gBall)" stroke="#129fd7" stroke-width="5.4"/>
<g transform="translate(1443.3,913.5999999999999) scale(1.045,1)"><text x="-21.69" y="0" font-size="78" font-family="Liberation Sans, sans-serif" fill="#000">5</text></g>
<circle cx="1111.4" cy="1311" r="64.9" fill="url(#gBall)" stroke="#129fd7" stroke-width="5.4"/>
<g transform="translate(1111.4,1337.3) scale(1.045,1)"><text x="-21.69" y="0" font-size="78" font-family="Liberation Sans, sans-serif" fill="#000">6</text></g>
<circle cx="1689.5" cy="660.4" r="64.9" fill="url(#gBall)" stroke="#129fd7" stroke-width="5.4"/>
<g transform="translate(1689.5,686.6999999999999) scale(1.045,1)"><text x="-21.69" y="0" font-size="78" font-family="Liberation Sans, sans-serif" fill="#000">7</text></g>
<circle cx="1508.6" cy="1318.5" r="64.9" fill="url(#gBall)" stroke="#129fd7" stroke-width="5.4"/>
<g transform="translate(1508.6,1344.8) scale(1.045,1)"><text x="-21.69" y="0" font-size="78" font-family="Liberation Sans, sans-serif" fill="#000">8</text></g>
<circle cx="393.1" cy="1229.3" r="64.9" fill="url(#gBall)" stroke="#129fd7" stroke-width="5.4"/>
<g transform="translate(393.1,1255.6) scale(1.045,1)"><text x="-21.69" y="0" font-size="78" font-family="Liberation Sans, sans-serif" fill="#000">9</text></g>
</svg>
</body></html>
